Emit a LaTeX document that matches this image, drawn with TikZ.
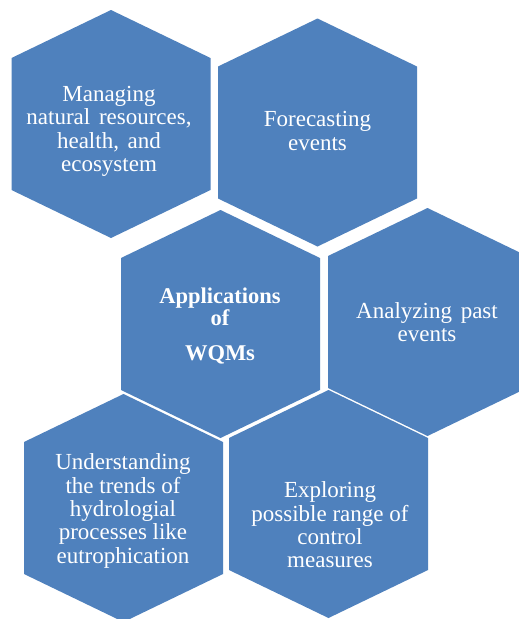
\documentclass[tikz,border=0pt]{standalone}
\usepackage{fontspec}
\setmainfont{Liberation Serif}
\newfontfamily\hexfont{Liberation Serif}
\definecolor{hexblue}{HTML}{4F81BD}
\tikzset{
  hexcell/.style={fill=hexblue},
  hexlabel/.style={text=white, align=center, inner sep=0pt,
    font=\hexfont\fontsize{23}{23.3}\selectfont},
}
% pointy-top hexagon centred at (#1,#2): half-width 99.5, half-height 114
\newcommand{\hexat}[2]{%
  \fill[hexcell] (#1,#2-114) -- (#1+99.5,#2-66) -- (#1+99.5,#2+66)
    -- (#1,#2+114) -- (#1-99.5,#2+66) -- (#1-99.5,#2-66) -- cycle;}
\newcommand{\widesp}{\ \hspace{3pt}}
\begin{document}
\begin{tikzpicture}[x=1pt,y=-1pt]
  \useasboundingbox (0,0) rectangle (519,619);
  \clip (0,0) rectangle (519,619);
  \fill[white] (0,0) rectangle (519,619);

  \hexat{111}{124}
  \hexat{317.5}{132.5}
  \hexat{220.5}{324}
  \hexat{427.5}{322}
  \hexat{123.5}{508}
  \hexat{328.5}{504}

  \node[hexlabel] (manage) at (109,131.5)
    {Managing\\natural\widesp resources,\\health,\widesp and\\ecosystem};
  \node[hexlabel] (forecast) at (317.5,131) {Forecasting\\events};
  \node[hexlabel, font=\hexfont\fontsize{22.5}{22}\selectfont\bfseries] (apps) at (220,326)
    {Applications\\of\\[13pt]WQMs};
  \node[hexlabel] (analyze) at (427,322) {Analyzing\widesp past\\events};
  \node[hexlabel] (understand) at (123,511)
    {Understanding\\the trends of\\hydrologial\\processes like\\eutrophication};
  \node[hexlabel] (explore) at (330,525)
    {Exploring\\possible range of\\control\\measures};
\end{tikzpicture}
\end{document}
